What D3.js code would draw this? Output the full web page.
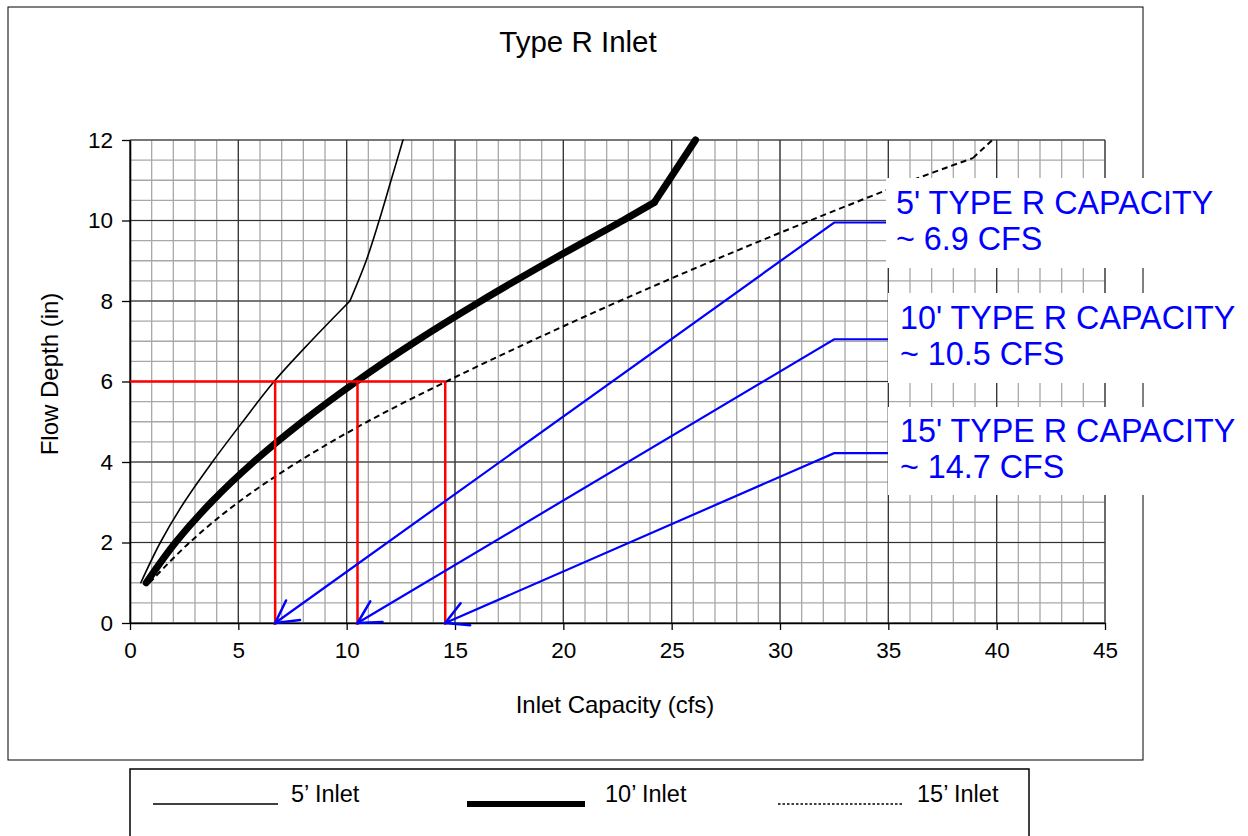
<!DOCTYPE html>
<html>
<head>
<meta charset="utf-8">
<script src="https://cdnjs.cloudflare.com/ajax/libs/d3/7.8.5/d3.min.js"></script>
<style>
  body { margin: 0; background: #fff; }
  text { font-family: Arial, "Liberation Sans", sans-serif; }
</style>
</head>
<body>
<svg id="chart" width="1248" height="836"></svg>
<script>
// flow depth (in) against inlet capacity (cfs)
let depth5 = [1, 2, 3, 4, 5, 6, 7, 8, 9, 10, 11, 12];
let cap5 = [0.5, 1.4, 2.5, 3.8, 5.2, 6.65, 8.35, 10.15, 10.9, 11.5, 12.05, 12.6];
let kink5 = 7;

let depth10 = [1, 2, 3, 4, 5, 6, 7, 8, 9, 10, 10.45, 12];
let cap10 = [0.75, 2.1, 3.75, 5.7, 7.95, 10.45, 13.2, 16.2, 19.4, 22.75, 24.2, 26.1];
let kink10 = 10;

let depth15 = [1, 2, 3, 4, 5, 6, 7, 8, 9, 10, 11, 11.55, 12];
let cap15 = [0.9, 2.75, 5.0, 7.75, 10.95, 14.6, 18.5, 22.6, 26.9, 31.4, 36.1, 38.9, 39.8];
let kink15 = 11;

// design depth lookup (red) and the capacity call-outs (blue)
let designDepth = 6;
let readCapacity = [6.7, 10.5, 14.55];
let calloutDepth = [9.95, 7.05, 4.22];
let calloutFrom = [35, 35, 35];
let calloutBend = [32.5, 32.5, 32.5];
let calloutText = [
  ["5' TYPE R CAPACITY", "~ 6.9 CFS"],
  ["10' TYPE R CAPACITY", "~ 10.5 CFS"],
  ["15' TYPE R CAPACITY", "~ 14.7 CFS"]
];

let xTicks = [0, 5, 10, 15, 20, 25, 30, 35, 40, 45];
let yTicks = [0, 2, 4, 6, 8, 10, 12];
let legendNames = ["5\u2019 Inlet", "10\u2019 Inlet", "15\u2019 Inlet"];

let svg = d3.select("#chart");

let plot = { left: 130, right: 1105, top: 140, bottom: 623 };

let x = d3.scaleLinear().domain([0, 45]).range([plot.left, plot.right]);
let y = d3.scaleLinear().domain([0, 12]).range([plot.bottom, plot.top]);

// outer frame
svg.append("rect")
  .attr("x", 8).attr("y", 7)
  .attr("width", 1135).attr("height", 753)
  .attr("fill", "white")
  .attr("stroke", "black")
  .attr("stroke-width", 1);

svg.append("text")
  .attr("x", 578).attr("y", 52)
  .attr("text-anchor", "middle")
  .attr("font-size", 29.5)
  .text("Type R Inlet");

// grid
let grid = svg.append("g");

grid.selectAll(".minorX")
  .data(d3.range(0, 46, 1))
  .enter().append("line")
  .attr("x1", d => x(d)).attr("x2", d => x(d))
  .attr("y1", y(0)).attr("y2", y(12))
  .attr("stroke", "#a8a8a8").attr("stroke-width", 1.3);

grid.selectAll(".minorY")
  .data(d3.range(0, 12.5, 0.5))
  .enter().append("line")
  .attr("x1", x(0)).attr("x2", x(45))
  .attr("y1", d => y(d)).attr("y2", d => y(d))
  .attr("stroke", "#a8a8a8").attr("stroke-width", 1.3);

grid.selectAll(".majorX")
  .data(xTicks)
  .enter().append("line")
  .attr("x1", d => x(d)).attr("x2", d => x(d))
  .attr("y1", y(0)).attr("y2", y(12))
  .attr("stroke", "#303030").attr("stroke-width", 1.2);

grid.selectAll(".majorY")
  .data(yTicks)
  .enter().append("line")
  .attr("x1", x(0)).attr("x2", x(45))
  .attr("y1", d => y(d)).attr("y2", d => y(d))
  .attr("stroke", "#303030").attr("stroke-width", 1.2);

// axes
let xAxis = svg.append("g")
  .attr("transform", "translate(0," + plot.bottom + ")")
  .call(d3.axisBottom(x).tickValues(xTicks).tickSize(7).tickSizeOuter(0).tickPadding(12));

let yAxis = svg.append("g")
  .attr("transform", "translate(" + plot.left + ",0)")
  .call(d3.axisLeft(y).tickValues(yTicks).tickSize(8).tickSizeOuter(0).tickPadding(9));

[xAxis, yAxis].forEach(function(a) {
  a.selectAll("text").attr("font-size", 22.5).attr("font-family", "Arial, 'Liberation Sans', sans-serif").attr("fill", "black");
  a.selectAll("line").attr("stroke", "black").attr("stroke-width", 1.3);
  a.select(".domain").attr("stroke", "black").attr("stroke-width", 1.6);
});

svg.append("text")
  .attr("x", 615).attr("y", 713)
  .attr("text-anchor", "middle")
  .attr("font-size", 24)
  .text("Inlet Capacity (cfs)");

svg.append("text")
  .attr("transform", "translate(58,374) rotate(-90)")
  .attr("text-anchor", "middle")
  .attr("font-size", 24)
  .text("Flow Depth (in)");

// inlet curves: smooth on each side of the kink, sharp at the kink
let smooth = d3.line().x(d => x(d[0])).y(d => y(d[1])).curve(d3.curveCatmullRom.alpha(0.5));
let straight = d3.line().x(d => x(d[0])).y(d => y(d[1]));

let series = [
  { cap: cap5, depth: depth5, kink: kink5, width: 1.6, dash: null },
  { cap: cap10, depth: depth10, kink: kink10, width: 7, dash: null },
  { cap: cap15, depth: depth15, kink: kink15, width: 2, dash: "6,4" }
];

series.forEach(function(s) {
  let pts = s.cap.map((c, i) => [c, s.depth[i]]);
  let g = svg.append("g")
    .attr("fill", "none")
    .attr("stroke", "black")
    .attr("stroke-width", s.width)
    .attr("stroke-linecap", s.dash ? "butt" : "round")
    .attr("stroke-linejoin", "round")
    .attr("stroke-dasharray", s.dash);
  g.append("path").attr("d", smooth(pts.slice(0, s.kink + 1)));
  g.append("path").attr("d", smooth(pts.slice(s.kink)));
});

// red depth lookup
let red = svg.append("g").attr("stroke", "#ff0000").attr("stroke-width", 2.5).attr("fill", "none");

red.append("line")
  .attr("x1", x(0)).attr("x2", x(d3.max(readCapacity)))
  .attr("y1", y(designDepth)).attr("y2", y(designDepth));

red.selectAll(".drop")
  .data(readCapacity)
  .enter().append("line")
  .attr("x1", d => x(d)).attr("x2", d => x(d))
  .attr("y1", y(designDepth)).attr("y2", y(0) + 2);

// blue call-out arrows
svg.append("defs").append("marker")
  .attr("id", "openArrow")
  .attr("markerUnits", "userSpaceOnUse")
  .attr("viewBox", "-30 -16 34 32")
  .attr("markerWidth", 34).attr("markerHeight", 32)
  .attr("refX", 0).attr("refY", 0)
  .attr("orient", "auto")
  .append("path")
  .attr("d", "M-22,-12 L0,0 L-22,12")
  .attr("fill", "none")
  .attr("stroke", "#0000ff")
  .attr("stroke-width", 2.5)
  .attr("stroke-linecap", "round");

svg.append("g").selectAll("path")
  .data(readCapacity)
  .enter().append("path")
  .attr("d", (d, i) => straight([[calloutFrom[i], calloutDepth[i]], [calloutBend[i], calloutDepth[i]], [d, 0]]))
  .attr("fill", "none")
  .attr("stroke", "#0000ff")
  .attr("stroke-width", 2.2)
  .attr("marker-end", "url(#openArrow)");

// call-out boxes
let boxes = [
  { x: 886, y: 178, h: 90, tx: 896, ty: 214 },
  { x: 888, y: 293, h: 90, tx: 900, ty: 329 },
  { x: 888, y: 407, h: 88, tx: 900, ty: 442 }
];

boxes.forEach(function(b, i) {
  svg.append("rect")
    .attr("x", b.x).attr("y", b.y)
    .attr("width", 1248 - b.x).attr("height", b.h)
    .attr("fill", "white");
  svg.append("text")
    .attr("x", b.tx).attr("y", b.ty)
    .attr("fill", "#0000ff")
    .attr("font-size", 32.3)
    .text(calloutText[i][0]);
  svg.append("text")
    .attr("x", b.tx).attr("y", b.ty + 36)
    .attr("fill", "#0000ff")
    .attr("font-size", 32.3)
    .text(calloutText[i][1]);
});

// legend
svg.append("rect")
  .attr("x", 130).attr("y", 769)
  .attr("width", 899).attr("height", 90)
  .attr("fill", "white")
  .attr("stroke", "black")
  .attr("stroke-width", 1.5);

let legendItems = [
  { x1: 153, x2: 278, tx: 291, width: 1.6, dash: null },
  { x1: 467, x2: 585, tx: 605, width: 6, dash: null },
  { x1: 778, x2: 903, tx: 917, width: 1.4, dash: "2.5,2" }
];

legendItems.forEach(function(l, i) {
  svg.append("line")
    .attr("x1", l.x1).attr("x2", l.x2)
    .attr("y1", 804).attr("y2", 804)
    .attr("stroke", "black")
    .attr("stroke-width", l.width)
    .attr("stroke-dasharray", l.dash);
  svg.append("text")
    .attr("x", l.tx).attr("y", 802)
    .attr("font-size", 23.5)
    .text(legendNames[i]);
});
</script>
</body>
</html>
